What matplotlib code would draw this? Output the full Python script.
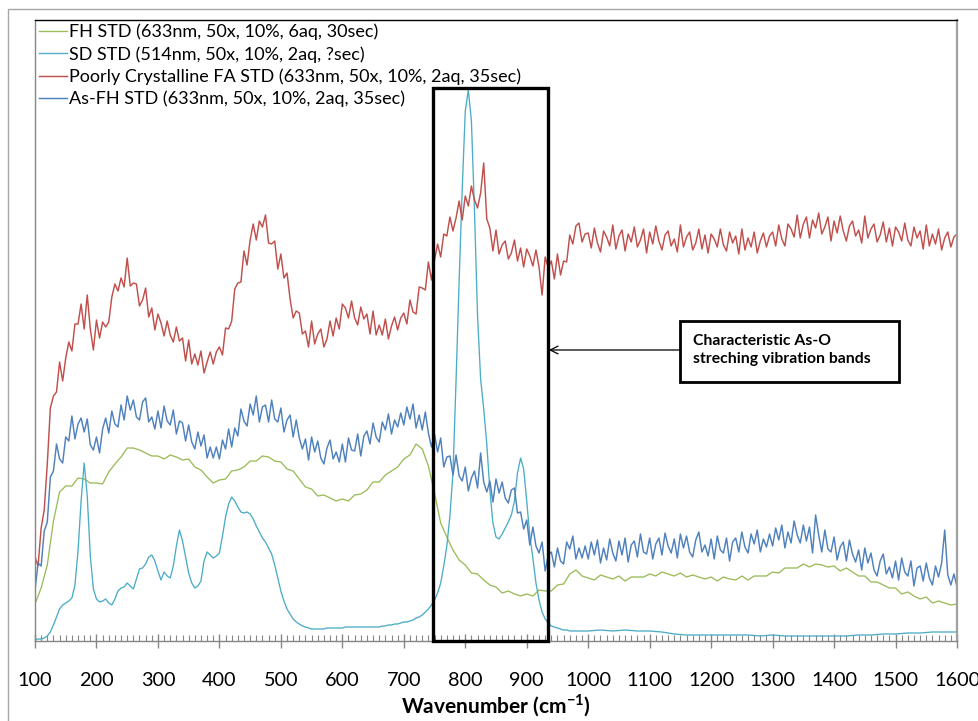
import numpy as np
import matplotlib
matplotlib.use("Agg")
import matplotlib.pyplot as plt
from matplotlib.patches import Rectangle
from matplotlib.ticker import MultipleLocator

plt.rcParams['font.family'] = ['Lato', 'DejaVu Sans']
plt.rcParams['mathtext.fontset'] = 'custom'
plt.rcParams['mathtext.rm'] = 'Lato'
plt.rcParams['mathtext.bf'] = 'Lato:bold'

# ---------------- data (arbitrary intensity units) -------------
wavenumber_5 = np.arange(100, 1601, 5)
wavenumber_10 = np.arange(100, 1601, 10)
wavenumber_sd = np.concatenate([np.arange(100, 1001, 5), np.arange(1020, 1601, 20)])

fh_std = [
    37, 53, 76, 120, 149, 155, 155, 163, 162, 158,
    158, 157, 169, 177, 184, 193, 193, 191, 188, 185,
    185, 182, 186, 184, 181, 182, 174, 171, 164, 158,
    161, 162, 170, 171, 174, 180, 180, 185, 184, 180,
    179, 172, 170, 162, 154, 152, 145, 146, 143, 140,
    142, 140, 146, 147, 151, 159, 159, 166, 170, 174,
    182, 186, 197, 192, 175, 148, 118, 104, 91, 81,
    76, 68, 67, 61, 56, 54, 48, 50, 47, 45,
    47, 45, 51, 50, 50, 56, 57, 67, 71, 65,
    63, 61, 66, 64, 62, 65, 60, 64, 64, 64,
    67, 65, 69, 67, 65, 68, 64, 66, 64, 62,
    64, 60, 64, 62, 61, 65, 61, 65, 65, 65,
    69, 68, 73, 73, 73, 77, 74, 77, 76, 74,
    75, 70, 73, 69, 65, 65, 59, 59, 56, 53,
    53, 47, 49, 45, 42, 44, 38, 40, 38, 36,
    37,
]

sd_std = [
    1, 2, 2, 3, 5, 9, 16, 24, 32, 36, 38, 40, 43, 56, 90, 140, 178, 145, 85, 52,
    42, 39, 40, 42, 38, 36, 42, 50, 53, 54, 58, 55, 52, 62, 72, 73, 77, 84, 86, 80,
    70, 61, 69, 65, 63, 75, 95, 111, 100, 84, 68, 58, 53, 55, 60, 80, 89, 86, 83, 85,
    88, 105, 124, 137, 144, 140, 134, 129, 128, 129, 127, 122, 115, 109, 103, 99, 93, 87, 76, 63,
    50, 40, 32, 27, 22, 19, 17, 15, 14, 13, 12, 12, 12, 12, 12, 13, 13, 13, 13, 13,
    13, 14, 14, 14, 14, 14, 14, 14, 14, 14, 14, 14, 14, 15, 15, 16, 16, 17, 17, 18,
    19, 19, 20, 21, 23, 24, 26, 29, 32, 36, 41, 48, 58, 75, 95, 125, 168, 260, 360, 451,
    530, 551, 520, 430, 325, 262, 232, 197, 151, 118, 104, 102, 107, 113, 119, 126, 140, 168, 183, 172,
    140, 105, 83, 58, 41, 29, 22, 18, 15, 14, 13, 12, 11, 11, 10, 10, 10, 10, 10, 10,
    10,
    11, 10, 11, 10, 10, 9, 7, 6, 6, 6, 6, 6, 6, 5, 6, 5, 5, 5, 5, 5,
    5, 6, 6, 7, 7, 8, 8, 9, 9, 9,
]

pc_fa_std = [
    84, 75, 113, 131, 177, 233, 245, 249, 279, 260, 283, 299, 290, 317, 317, 337, 312, 346, 312, 291,
    321, 303, 319, 314, 319, 344, 357, 350, 363, 354, 383, 355, 358, 357, 335, 341, 353, 324, 333, 311,
    327, 318, 305, 320, 306, 299, 314, 300, 303, 280, 301, 277, 287, 276, 290, 268, 279, 289, 277, 289,
    294, 286, 313, 312, 320, 352, 358, 359, 390, 376, 401, 417, 401, 420, 414, 426, 398, 397, 400, 372,
    387, 363, 368, 342, 323, 330, 328, 307, 310, 294, 320, 297, 307, 312, 294, 302, 320, 305, 323, 312,
    337, 333, 323, 340, 323, 316, 334, 322, 327, 307, 330, 306, 316, 306, 322, 302, 315, 324, 311, 323,
    328, 317, 341, 329, 327, 354, 353, 351, 379, 361, 381, 397, 384, 407, 405, 424, 410, 423, 440, 421,
    445, 435, 455, 441, 433, 448, 478, 422, 413, 390, 411, 387, 396, 400, 382, 388, 401, 380, 393, 374,
    392, 385, 375, 391, 374, 346, 384, 373, 380, 362, 387, 366, 380, 379, 406, 397, 415, 418, 399, 407,
    408, 393, 413, 398, 389, 410, 404, 395, 416, 392, 405, 411, 390, 407, 399, 414, 394, 401, 412, 388,
    409, 397, 415, 400, 391, 406, 410, 395, 402, 389, 416, 394, 404, 409, 391, 398, 412, 392, 406, 388,
    407, 402, 394, 412, 396, 390, 409, 398, 405, 387, 412, 391, 403, 394, 409, 388, 400, 408, 394, 405,
    409, 395, 416, 402, 395, 417, 412, 404, 426, 403, 417, 424, 403, 421, 413, 428, 407, 414, 424, 400,
    420, 408, 425, 410, 400, 415, 420, 405, 411, 398, 425, 403, 412, 417, 399, 406, 419, 399, 413, 395,
    414, 409, 400, 418, 401, 395, 414, 403, 410, 392, 416, 395, 407, 397, 412, 391, 403, 409, 394, 404,
    407,
]

as_fh_std = [
    51, 78, 75, 110, 119, 164, 170, 197, 182, 178, 204, 200, 225, 202, 217, 223, 209, 222, 196, 191,
    204, 188, 212, 223, 208, 230, 217, 214, 236, 221, 245, 231, 241, 224, 221, 239, 243, 219, 224, 212,
    230, 213, 235, 220, 216, 231, 207, 220, 218, 200, 216, 199, 192, 209, 195, 206, 183, 194, 183, 194,
    182, 201, 192, 212, 194, 213, 205, 232, 220, 215, 237, 226, 245, 219, 234, 236, 219, 241, 222, 219,
    233, 209, 221, 226, 204, 221, 203, 192, 202, 181, 204, 189, 200, 183, 177, 193, 201, 182, 189, 179,
    197, 179, 203, 191, 190, 207, 185, 205, 210, 197, 218, 204, 199, 219, 211, 227, 207, 221, 214, 228,
    216, 234, 222, 237, 213, 226, 211, 229, 208, 194, 207, 189, 203, 174, 184, 185, 166, 186, 165, 160,
    174, 150, 163, 170, 153, 188, 159, 149, 160, 139, 162, 148, 159, 143, 138, 151, 153, 128, 129, 112,
    121, 96, 114, 95, 88, 99, 70, 86, 89, 74, 93, 80, 77, 99, 92, 105, 82, 93, 83, 95,
    82, 99, 86, 101, 78, 93, 81, 102, 88, 80, 100, 86, 103, 79, 96, 100, 84, 107, 89, 87,
    103, 82, 97, 103, 86, 108, 95, 88, 102, 83, 107, 93, 105, 89, 84, 101, 109, 89, 96, 85,
    102, 82, 105, 91, 88, 103, 80, 99, 103, 89, 109, 94, 88, 107, 97, 111, 89, 102, 94, 107,
    95, 113, 101, 116, 93, 109, 98, 120, 106, 98, 116, 100, 114, 88, 126, 106, 89, 111, 92, 89,
    104, 81, 94, 99, 80, 101, 87, 79, 91, 71, 93, 78, 88, 71, 65, 80, 87, 67, 74, 63,
    80, 61, 83, 69, 65, 80, 55, 73, 75, 60, 78, 63, 56, 75, 64, 78, 111, 66, 56, 67,
    54,
]

series_labels = [
    "FH STD (633nm, 50x, 10%, 6aq, 30sec)",
    "SD STD (514nm, 50x, 10%, 2aq, ?sec)",
    "Poorly Crystalline FA STD (633nm, 50x, 10%, 2aq, 35sec)",
    "As-FH STD (633nm, 50x, 10%, 2aq, 35sec)",
]
series_colors = ["#9BBB59", "#4BACC6", "#C0504D", "#4F81BD"]

box_range = (748, 935)        # highlighted As-O band region (cm-1)
box_top = 553
annotation_text = "Characteristic As-O\nstreching vibration bands"
tick_values = list(range(100, 1601, 100))

# ---------------- figure ----------------
W, H = 979, 721
fig = plt.figure(figsize=(W / 100, H / 100), dpi=100)
fig.patch.set_facecolor("white")

# outer chart border (Excel chart area)
fig.patches.append(Rectangle((8.5 / W, -0.1), 2.0, 1 - 8.5 / H + 0.1,
                             transform=fig.transFigure, fill=False,
                             edgecolor="#A6A6A6", lw=1.0))

ax = fig.add_axes([35 / W, 80 / H, 922 / W, 621 / H])

ax.plot(wavenumber_10, fh_std, color=series_colors[0], lw=0.95, label=series_labels[0])
ax.plot(wavenumber_sd, sd_std, color=series_colors[1], lw=0.95, label=series_labels[1])
ax.plot(wavenumber_5, pc_fa_std, color=series_colors[2], lw=1.05, label=series_labels[2])
ax.plot(wavenumber_5, as_fh_std, color=series_colors[3], lw=1.05, label=series_labels[3])

ax.set_xlim(100, 1600)
ax.set_ylim(0, 621)
ax.set_yticks([])
ax.set_xticks(tick_values)
ax.xaxis.set_minor_locator(MultipleLocator(10))
ax.tick_params(axis="x", which="major", direction="inout", length=10, width=1,
               color="#868686", labelsize=14.3, pad=17.5)
ax.tick_params(axis="x", which="minor", direction="in", length=4, width=0.8,
               color="#868686")

for s in ["left", "bottom"]:
    ax.spines[s].set_color("#868686")
    ax.spines[s].set_linewidth(1.0)
ax.spines["top"].set_color("black")
ax.spines["top"].set_linewidth(1.0)
ax.spines["right"].set_color("#A0A0A0")
ax.spines["right"].set_linewidth(1.6)

ax.set_xlabel("Wavenumber (cm$^{\\mathbf{-1}}$)", fontsize=15, fontweight="bold", labelpad=2)

leg = ax.legend(loc="upper left", bbox_to_anchor=(0, 1), frameon=False,
                fontsize=13, handlelength=1.55, handletextpad=0.15,
                labelspacing=0.32, borderpad=0.2, borderaxespad=0)

# highlight box
ax.add_patch(Rectangle((box_range[0], 0), box_range[1] - box_range[0], box_top,
                       fill=False, edgecolor="black", lw=2.4, zorder=6, clip_on=False))

# annotation box + arrow
ax.add_patch(Rectangle((1149, 259), 356, 61, facecolor="white",
                       edgecolor="black", lw=2.0, zorder=7))
ax.text(1171, 291, annotation_text, fontsize=11.3, fontweight="bold",
        ha="left", va="center", linespacing=1.35, zorder=8)
ax.annotate("", xy=(box_range[1] + 1, 291), xytext=(1149, 291),
            arrowprops=dict(arrowstyle="->", lw=0.9, color="black",
                            mutation_scale=14, shrinkA=0, shrinkB=0), zorder=8)

fig.savefig("out.png", dpi=100)
